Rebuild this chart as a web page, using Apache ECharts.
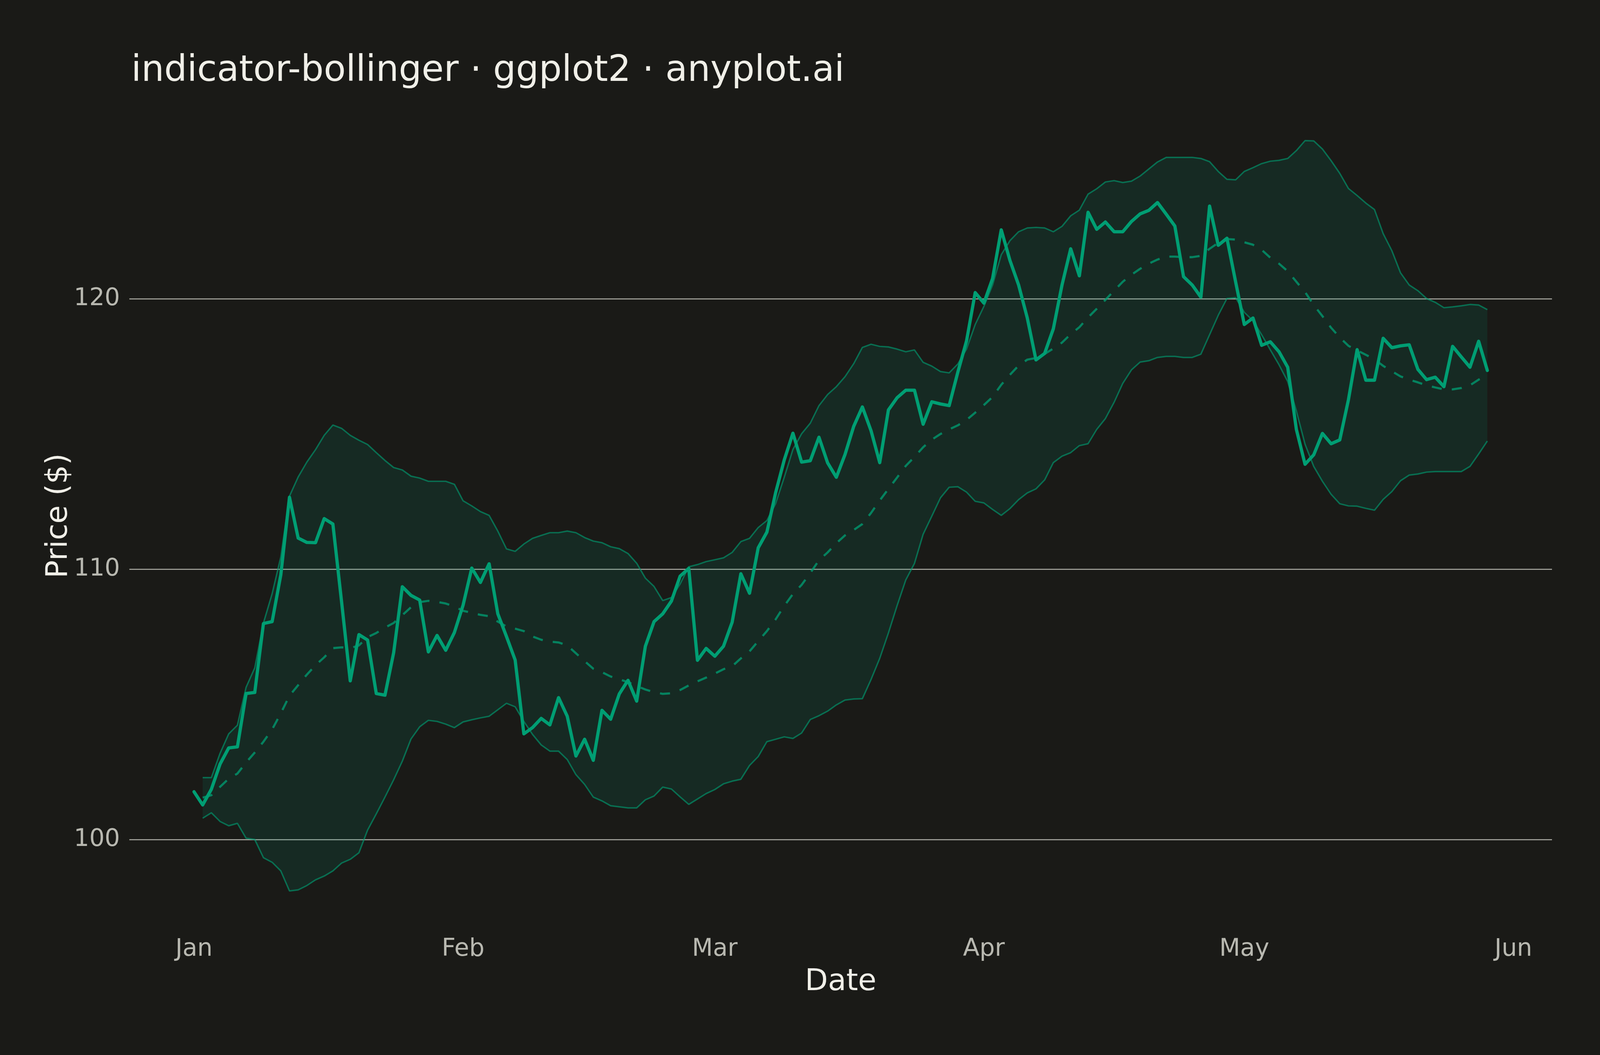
<!DOCTYPE html>
<html>
<head>
<meta charset="utf-8">
<title>indicator-bollinger</title>
<script src="https://cdn.jsdelivr.net/npm/echarts@6/dist/echarts.min.js"></script>
<style>
  html, body { margin: 0; padding: 0; background: #1a1a17; overflow: hidden; }
</style>
</head>
<body>
<div id="main"></div>
<script>
// daily closes, 1 Jan 2024 .. 29 May 2024 (day 0 .. 149)
var price = [
  101.77, 101.28, 101.86, 102.79, 103.39, 103.43, 105.40, 105.44, 107.99, 108.06,
  109.79, 112.66, 111.15, 110.99, 110.98, 111.87, 111.67, 108.80, 105.87, 107.58,
  107.38, 105.40, 105.34, 106.91, 109.35, 109.03, 108.86, 106.94, 107.55, 107.00,
  107.66, 108.67, 110.04, 109.51, 110.20, 108.35, 107.51, 106.64, 103.91, 104.14,
  104.48, 104.24, 105.25, 104.56, 103.09, 103.71, 102.93, 104.78, 104.45, 105.39,
  105.89, 105.12, 107.15, 108.06, 108.35, 108.82, 109.74, 110.03, 106.63, 107.07,
  106.78, 107.15, 108.04, 109.83, 109.11, 110.79, 111.37, 112.82, 114.04, 115.03,
  113.96, 114.01, 114.88, 113.93, 113.40, 114.24, 115.28, 116.00, 115.12, 113.94,
  115.89, 116.34, 116.62, 116.62, 115.36, 116.19, 116.11, 116.05, 117.29, 118.44,
  120.23, 119.84, 120.75, 122.55, 121.42, 120.51, 119.29, 117.74, 117.98, 118.89,
  120.51, 121.85, 120.85, 123.20, 122.57, 122.84, 122.48, 122.48, 122.86, 123.14,
  123.27, 123.56, 123.13, 122.69, 120.82, 120.51, 120.06, 123.43, 121.98, 122.24,
  120.63, 119.05, 119.29, 118.28, 118.41, 118.04, 117.47, 115.17, 113.88, 114.23,
  115.02, 114.64, 114.78, 116.27, 118.12, 116.99, 116.99, 118.54, 118.19, 118.26,
  118.30, 117.39, 117.01, 117.10, 116.75, 118.24, 117.85, 117.47, 118.43, 117.35
];

// bands start on day 1
var upper = [
  102.29, 102.29, 103.19, 103.91, 104.23, 105.63, 106.35, 108.01, 109.09,
  110.45, 112.70, 113.41, 113.96, 114.42, 114.95, 115.33, 115.21, 114.95, 114.77,
  114.61, 114.31, 114.02, 113.76, 113.67, 113.44, 113.37, 113.25, 113.25, 113.25,
  113.14, 112.53, 112.34, 112.13, 111.99, 111.41, 110.75, 110.66, 110.93, 111.14,
  111.25, 111.35, 111.35, 111.41, 111.35, 111.17, 111.04, 110.98, 110.83, 110.76,
  110.58, 110.22, 109.67, 109.36, 108.84, 108.95, 109.45, 110.09, 110.17, 110.28,
  110.35, 110.42, 110.62, 111.02, 111.14, 111.54, 111.80, 112.42, 113.40, 114.43,
  115.01, 115.40, 116.05, 116.46, 116.75, 117.12, 117.60, 118.20, 118.32, 118.24,
  118.22, 118.14, 118.04, 118.11, 117.65, 117.51, 117.31, 117.26, 117.59, 118.14,
  119.05, 119.72, 120.51, 121.63, 122.15, 122.48, 122.62, 122.64, 122.62, 122.48,
  122.68, 123.07, 123.28, 123.87, 124.07, 124.32, 124.37, 124.30, 124.35, 124.54,
  124.80, 125.06, 125.23, 125.23, 125.23, 125.23, 125.19, 125.07, 124.71, 124.42,
  124.40, 124.71, 124.85, 125.00, 125.09, 125.12, 125.19, 125.48, 125.85, 125.84,
  125.54, 125.11, 124.64, 124.08, 123.82, 123.54, 123.30, 122.41, 121.78, 120.96,
  120.51, 120.30, 120.01, 119.87, 119.67, 119.70, 119.74, 119.79, 119.77, 119.60
];

var lower = [
  100.79, 100.99, 100.67, 100.51, 100.60, 100.05, 100.00, 99.33, 99.16,
  98.84, 98.10, 98.14, 98.30, 98.51, 98.65, 98.84, 99.13, 99.27, 99.51,
  100.35, 100.95, 101.57, 102.21, 102.90, 103.72, 104.17, 104.41, 104.37, 104.27,
  104.14, 104.35, 104.43, 104.50, 104.56, 104.80, 105.04, 104.91, 104.37, 103.89,
  103.50, 103.27, 103.27, 102.96, 102.40, 102.04, 101.57, 101.43, 101.25, 101.21,
  101.17, 101.17, 101.47, 101.61, 101.94, 101.87, 101.58, 101.30, 101.50, 101.70,
  101.85, 102.06, 102.16, 102.23, 102.74, 103.07, 103.62, 103.71, 103.80, 103.74,
  103.94, 104.44, 104.58, 104.75, 104.98, 105.16, 105.20, 105.21, 105.92, 106.70,
  107.64, 108.65, 109.60, 110.21, 111.29, 111.96, 112.64, 113.03, 113.05, 112.85,
  112.51, 112.45, 112.21, 111.99, 112.24, 112.57, 112.82, 112.97, 113.30, 113.94,
  114.18, 114.31, 114.57, 114.64, 115.17, 115.57, 116.17, 116.87, 117.37, 117.66,
  117.71, 117.83, 117.87, 117.87, 117.83, 117.83, 117.95, 118.67, 119.39, 120.01,
  120.04, 119.50, 119.19, 118.67, 118.11, 117.56, 116.94, 115.85, 114.62, 113.80,
  113.25, 112.77, 112.42, 112.34, 112.33, 112.25, 112.18, 112.58, 112.87, 113.27,
  113.48, 113.52, 113.59, 113.61, 113.61, 113.61, 113.61, 113.80, 114.26, 114.74
];

var middle = [
  101.55, 101.64, 101.95, 102.25, 102.44, 102.85, 103.22, 103.62, 104.07,
  104.67, 105.32, 105.71, 106.10, 106.45, 106.74, 107.08, 107.11, 107.08, 107.18,
  107.49, 107.64, 107.84, 108.01, 108.30, 108.59, 108.78, 108.83, 108.79, 108.73,
  108.62, 108.46, 108.39, 108.31, 108.26, 108.06, 107.88, 107.80, 107.71, 107.51,
  107.39, 107.32, 107.29, 107.18, 106.89, 106.60, 106.32, 106.19, 106.03, 105.93,
  105.82, 105.68, 105.55, 105.45, 105.39, 105.41, 105.53, 105.70, 105.85, 105.99,
  106.14, 106.30, 106.41, 106.70, 106.96, 107.34, 107.71, 108.14, 108.64, 109.08,
  109.42, 109.86, 110.33, 110.62, 110.96, 111.25, 111.45, 111.67, 112.08, 112.54,
  112.97, 113.39, 113.82, 114.15, 114.51, 114.79, 115.00, 115.17, 115.32, 115.52,
  115.79, 116.07, 116.37, 116.82, 117.19, 117.53, 117.75, 117.81, 117.96, 118.16,
  118.38, 118.69, 118.95, 119.31, 119.63, 119.96, 120.30, 120.63, 120.89, 121.11,
  121.30, 121.45, 121.56, 121.56, 121.54, 121.54, 121.59, 121.85, 122.07, 122.21,
  122.19, 122.09, 122.00, 121.81, 121.52, 121.30, 121.02, 120.63, 120.25, 119.77,
  119.36, 118.93, 118.57, 118.26, 118.09, 117.93, 117.76, 117.52, 117.32, 117.13,
  117.01, 116.91, 116.80, 116.72, 116.65, 116.65, 116.70, 116.80, 117.01, 117.16
];

// month starts as day offsets from 1 Jan 2024
var monthTicks = [0, 31, 60, 91, 121, 152];
var monthLabels = ['Jan', 'Feb', 'Mar', 'Apr', 'May', 'Jun'];
var priceTicks = [100, 110, 120];

var green = '#009E73';
var font = 'DejaVu Sans';

// layout numbers are for a 4800x2700 page; stretch them to whatever viewport we get
var W = window.innerWidth || 4800;
var H = window.innerHeight || 2700;
var sx = W / 4800, sy = H / 2700;
var sf = Math.sqrt(sx * sy);
function px(v) { return v * sx; }
function py(v) { return v * sy; }
function pf(v) { return v * sf; }

var box = document.getElementById('main');
box.style.width = W + 'px';
box.style.height = H + 'px';

var priceData = [];
for (var i = 0; i < price.length; i++) {
    priceData.push([i, price[i]]);
}
var upperData = [], lowerData = [], middleData = [];
for (var j = 0; j < upper.length; j++) {
    upperData.push([j + 1, upper[j]]);
    lowerData.push([j + 1, lower[j]]);
    middleData.push([j + 1, middle[j]]);
}

// ribbon between lower and upper band
function renderBand(params, api) {
    var pts = [];
    for (var k = 0; k < upperData.length; k++) {
        pts.push(api.coord(upperData[k]));
    }
    for (var m = lowerData.length - 1; m >= 0; m--) {
        pts.push(api.coord(lowerData[m]));
    }
    return {
        type: 'polygon',
        shape: { points: pts },
        style: { fill: 'rgba(0,158,115,0.13)' },
        silent: true
    };
}

var chart = echarts.init(box);

var option = {
    backgroundColor: '#1a1a17',
    animation: false,
    title: {
        text: 'indicator-bollinger · ggplot2 · anyplot.ai',
        left: px(388),
        top: py(178) - pf(50),
        textStyle: {
            fontFamily: font,
            fontSize: pf(100),
            fontWeight: 'normal',
            color: '#f0efe8'
        }
    },
    grid: {
        left: px(388),
        right: px(144),
        top: py(263),
        bottom: py(323),
        containLabel: false
    },
    xAxis: {
        type: 'value',
        min: -7.45,
        max: 156.45,
        name: 'Date',
        nameLocation: 'middle',
        nameGap: py(136) - pf(41),
        nameTextStyle: { fontFamily: font, fontSize: pf(83), color: '#f0efe8' },
        axisLine: { show: false },
        axisTick: { show: false },
        splitLine: { show: false },
        axisLabel: {
            customValues: monthTicks,
            margin: py(52) - pf(33),
            fontFamily: font,
            fontSize: pf(67),
            color: '#b8b8b0',
            formatter: function (v) {
                var k = monthTicks.indexOf(v);
                return k >= 0 ? monthLabels[k] : '';
            }
        }
    },
    yAxis: {
        type: 'value',
        min: 96.7,
        max: 127.25,
        name: 'Price ($)',
        nameLocation: 'middle',
        nameMoveOverlap: false,
        nameGap: px(211) - pf(42),
        nameRotate: 90,
        nameTextStyle: { fontFamily: font, fontSize: pf(83), color: '#f0efe8' },
        axisLine: { show: false },
        axisTick: { show: false },
        splitLine: { show: false },
        axisLabel: {
            customValues: priceTicks,
            margin: px(28),
            fontFamily: font,
            fontSize: pf(67),
            color: '#b8b8b0'
        }
    },
    series: [
        {
            name: 'band',
            type: 'custom',
            data: [[0, 100]],
            renderItem: renderBand,
            silent: true,
            z: 1
        },
        {
            // horizontal grid lines
            name: 'grid',
            type: 'line',
            data: [],
            symbol: 'none',
            silent: true,
            z: 0,
            markLine: {
                silent: true,
                z: 0,
                symbol: ['none', 'none'],
                label: { show: false },
                lineStyle: { type: 'solid', color: '#b0b0a8', width: pf(2.5) },
                data: priceTicks.map(function (t) { return { yAxis: t }; })
            }
        },
        {
            name: 'Upper',
            type: 'line',
            data: upperData,
            symbol: 'none',
            z: 2,
            lineStyle: { color: 'rgba(0,158,115,0.62)', width: pf(4) }
        },
        {
            name: 'Lower',
            type: 'line',
            data: lowerData,
            symbol: 'none',
            z: 2,
            lineStyle: { color: 'rgba(0,158,115,0.62)', width: pf(4) }
        },
        {
            name: 'SMA 20',
            type: 'line',
            data: middleData,
            symbol: 'none',
            z: 3,
            lineStyle: { color: 'rgba(0,158,115,0.76)', width: pf(6), type: [pf(28), pf(28)] }
        },
        {
            name: 'Price',
            type: 'line',
            data: priceData,
            symbol: 'none',
            z: 5,
            lineStyle: { color: green, width: pf(9), join: 'round', cap: 'round' }
        }
    ]
};

chart.setOption(option);
</script>
</body>
</html>
